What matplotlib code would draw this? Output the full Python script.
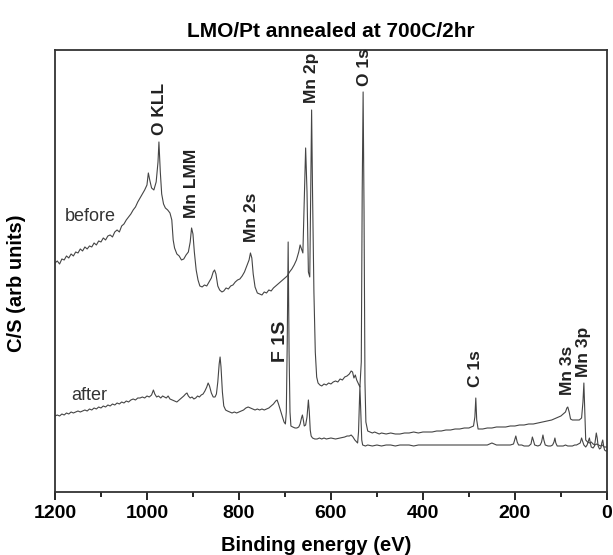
import matplotlib.pyplot as plt
from matplotlib.ticker import MultipleLocator

plt.rcParams['font.family'] = ['Liberation Sans', 'DejaVu Sans']

# XPS survey, binding energy (eV) and counts (arb units)
before_ev = [1200, 1195, 1190, 1185, 1180, 1175, 1170, 1165, 1160, 1155, 1150, 1145, 1140, 1135, 1130,
             1125, 1120, 1115, 1110, 1105, 1100, 1095, 1090, 1085, 1080, 1075, 1070, 1065, 1060, 1055,
             1050, 1045, 1040, 1035, 1030, 1025, 1020, 1015, 1010, 1005, 1000, 997, 994, 990, 985,
             980, 976, 974, 971, 968, 964, 960, 955, 950, 946, 943, 940, 935, 930, 925,
             920, 915, 910, 906, 903, 900, 897, 893, 889, 885, 880, 875, 870, 865, 860,
             856, 853, 850, 846, 842, 837, 833, 828, 823, 818, 813, 808, 803, 798, 793,
             788, 783, 778, 775, 772, 769, 765, 760, 755, 750, 745, 740, 735, 730, 725,
             720, 715, 710, 705, 700, 695, 690, 685, 680, 675, 670, 667, 664, 661, 658,
             655, 652, 649, 646, 644, 642, 640, 637, 634, 631, 628, 624, 620, 615, 610,
             605, 600, 595, 590, 585, 580, 575, 570, 565, 560, 556, 553, 550, 547, 544,
             540, 537, 534, 532, 530, 528, 526, 524, 520, 515, 510, 505, 500, 495, 490,
             480, 470, 460, 450, 440, 430, 420, 410, 400, 390, 380, 370, 360, 350, 340,
             330, 320, 310, 300, 295, 290, 287, 285, 283, 280, 275, 270, 260, 250, 240,
             230, 220, 210, 200, 190, 180, 170, 160, 150, 140, 130, 120, 110, 100, 95,
             90, 87, 85, 82, 79, 75, 70, 65, 60, 55, 52, 50, 48, 46, 42,
             38, 34, 30, 26, 22, 18, 14, 10, 6, 2, 0]
before_cs = [229, 231, 228, 233, 232, 236, 234, 238, 236, 240, 239, 243, 241, 245, 243,
             246, 245, 249, 247, 251, 250, 254, 252, 256, 257, 255, 260, 262, 260, 266,
             268, 272, 275, 278, 282, 285, 290, 294, 298, 302, 307, 319, 312, 304, 302,
             310, 330, 350, 320, 298, 288, 284, 282, 279, 272, 252, 244, 238, 236, 232,
             233, 237, 240, 250, 264, 258, 240, 222, 212, 206, 205, 207, 206, 210, 214,
             220, 222, 218, 206, 202, 200, 201, 204, 203, 206, 207, 210, 212, 213, 216,
             220, 226, 232, 239, 234, 218, 205, 199, 198, 197, 200, 199, 202, 201, 204,
             206, 208, 210, 212, 214, 216, 220, 223, 227, 232, 240, 247, 243, 239, 290,
             344, 300, 220, 215, 300, 382, 300, 200, 140, 115, 109, 107, 106, 108, 107,
             109, 108, 110, 111, 110, 113, 112, 115, 116, 118, 121, 120, 114, 117, 112,
             108, 105, 130, 300, 400, 280, 110, 70, 61, 60, 59, 60, 59, 58, 59,
             58, 59, 58, 58, 59, 59, 60, 59, 60, 60, 60, 61, 61, 62, 62,
             63, 63, 64, 64, 65, 66, 75, 94, 72, 63, 63, 63, 64, 64, 65,
             65, 65, 66, 66, 67, 67, 68, 68, 69, 70, 71, 72, 74, 76, 78,
             80, 84, 85, 80, 73, 72, 72, 72, 72, 74, 90, 109, 80, 52, 50,
             49, 50, 48, 47, 48, 47, 46, 47, 45, 45, 45]

after_ev = [1200, 1195, 1190, 1185, 1180, 1175, 1170, 1165, 1160, 1155, 1150, 1145, 1140, 1135, 1130,
            1125, 1120, 1115, 1110, 1105, 1100, 1095, 1090, 1085, 1080, 1075, 1070, 1065, 1060, 1055,
            1050, 1045, 1040, 1035, 1030, 1025, 1020, 1015, 1010, 1005, 1000, 995, 990, 986, 983,
            979, 975, 970, 966, 962, 958, 954, 950, 945, 940, 935, 930, 925, 920, 916,
            913, 910, 906, 902, 898, 894, 890, 886, 882, 878, 874, 870, 867, 864, 860,
            856, 852, 849, 846, 843, 841, 839, 836, 833, 829, 825, 820, 815, 810, 805,
            800, 795, 790, 785, 780, 775, 770, 765, 760, 755, 750, 745, 740, 735, 730,
            725, 720, 717, 714, 710, 706, 702, 699, 697, 695, 693, 691, 689, 687, 683,
            678, 674, 670, 667, 664, 662, 660, 658, 655, 652, 649, 647, 645, 643, 640,
            635, 630, 625, 620, 615, 610, 600, 590, 580, 570, 565, 560, 556, 552, 548,
            544, 542, 540, 538, 537, 535, 533, 531, 525, 520, 510, 500, 490, 480, 470,
            460, 450, 440, 430, 420, 410, 400, 390, 380, 370, 360, 350, 340, 330, 320,
            310, 300, 290, 280, 270, 260, 255, 250, 245, 240, 230, 220, 210, 203, 200,
            198, 195, 192, 185, 180, 175, 170, 165, 162, 160, 157, 150, 145, 142, 139,
            137, 134, 128, 122, 118, 115, 113, 111, 108, 100, 95, 90, 85, 80, 75,
            70, 66, 62, 58, 55, 53, 50, 46, 43, 40, 38, 36, 34, 30, 27,
            25, 23, 21, 19, 16, 13, 11, 9, 7, 5, 2, 0]
after_cs = [76, 77, 76, 78, 77, 79, 78, 80, 79, 80, 81, 80, 81, 82, 81,
            83, 82, 84, 83, 85, 84, 86, 85, 87, 86, 88, 87, 89, 88, 90,
            89, 91, 90, 92, 93, 92, 94, 94, 95, 94, 96, 95, 97, 102, 98,
            95, 96, 94, 96, 95, 94, 96, 93, 92, 91, 90, 92, 94, 96, 98,
            99, 96, 94, 95, 93, 94, 96, 95, 97, 98, 101, 105, 109, 106, 99,
            95, 95, 98, 110, 128, 135, 125, 100, 86, 82, 81, 80, 79, 80, 79,
            80, 81, 82, 84, 85, 84, 83, 82, 83, 82, 83, 82, 83, 84, 86,
            88, 91, 92, 88, 82, 76, 70, 68, 80, 150, 250, 140, 80, 66, 65,
            64, 64, 65, 68, 74, 77, 72, 66, 67, 75, 92, 80, 62, 56, 54,
            53, 53, 54, 53, 54, 53, 54, 53, 54, 55, 56, 56, 57, 55, 52,
            50, 49, 60, 90, 106, 80, 52, 47, 46, 47, 46, 47, 46, 47, 47,
            46, 47, 47, 47, 46, 47, 47, 47, 47, 47, 47, 47, 47, 47, 47,
            47, 47, 47, 47, 47, 47, 48, 49, 48, 47, 47, 47, 47, 48, 53,
            56, 50, 47, 47, 46, 46, 46, 48, 55, 52, 47, 46, 47, 50, 57,
            52, 47, 46, 46, 47, 50, 54, 49, 46, 46, 46, 47, 46, 46, 46,
            47, 47, 48, 49, 54, 51, 47, 45, 47, 51, 54, 49, 45, 44, 46,
            52, 59, 54, 46, 43, 44, 49, 52, 46, 42, 41, 41]

# peak labels: text, energy, height of label foot
peak_names = ['O KLL', 'Mn LMM', 'Mn 2s', 'Mn 2p', 'O 1s', 'C 1s', 'Mn 3s', 'Mn 3p']
peak_ev = [972, 903, 772, 643, 528, 285, 85, 50]
peak_y = [357, 274, 250, 389, 406, 105, 97, 115]

fig, ax = plt.subplots(figsize=(6.13, 5.55), dpi=100)
fig.subplots_adjust(left=0.0897, right=0.990, bottom=0.1135, top=0.910)

ax.plot(before_ev, before_cs, color='#454545', lw=0.8)
ax.plot(after_ev, after_cs, color='#454545', lw=0.8)

for name, ev, y in zip(peak_names, peak_ev, peak_y):
    ax.text(ev, y, name, rotation=90, ha='center', va='bottom',
            fontsize=12.5, fontweight='bold', color='#222222')
ax.text(709, 130, 'F 1S', rotation=90, ha='center', va='bottom',
        fontsize=14, fontweight='bold', color='#222222')

ax.text(1178, 271, 'before', fontsize=13, color='#333333', va='baseline')
ax.text(1165, 92, 'after', fontsize=13, color='#333333', va='baseline')

ax.set_xlim(1200, 0)
ax.set_ylim(0, 442)
ax.xaxis.set_major_locator(MultipleLocator(200))
ax.xaxis.set_minor_locator(MultipleLocator(100))
ax.set_yticks([])
ax.tick_params(axis='x', which='major', direction='out', length=6, width=1.2, pad=3,
               labelsize=14)
ax.tick_params(axis='x', which='minor', direction='out', length=3.5, width=1.2)
for lab in ax.get_xticklabels():
    lab.set_fontweight('bold')
for s in ax.spines.values():
    s.set_linewidth(1.3)
    s.set_color('#333333')

ax.set_title('LMO/Pt annealed at 700C/2hr', fontsize=15, fontweight='bold', pad=9)
ax.set_xlabel('Binding energy (eV)', fontsize=14.5, fontweight='bold')
ax.set_ylabel('C/S (arb units)', fontsize=14.5, fontweight='bold')
ax.xaxis.set_label_coords(0.473, -0.10)
ax.xaxis.label.set_va('top')
ax.yaxis.set_label_coords(-0.052, 0.473)

plt.savefig('out.png', dpi=100)
